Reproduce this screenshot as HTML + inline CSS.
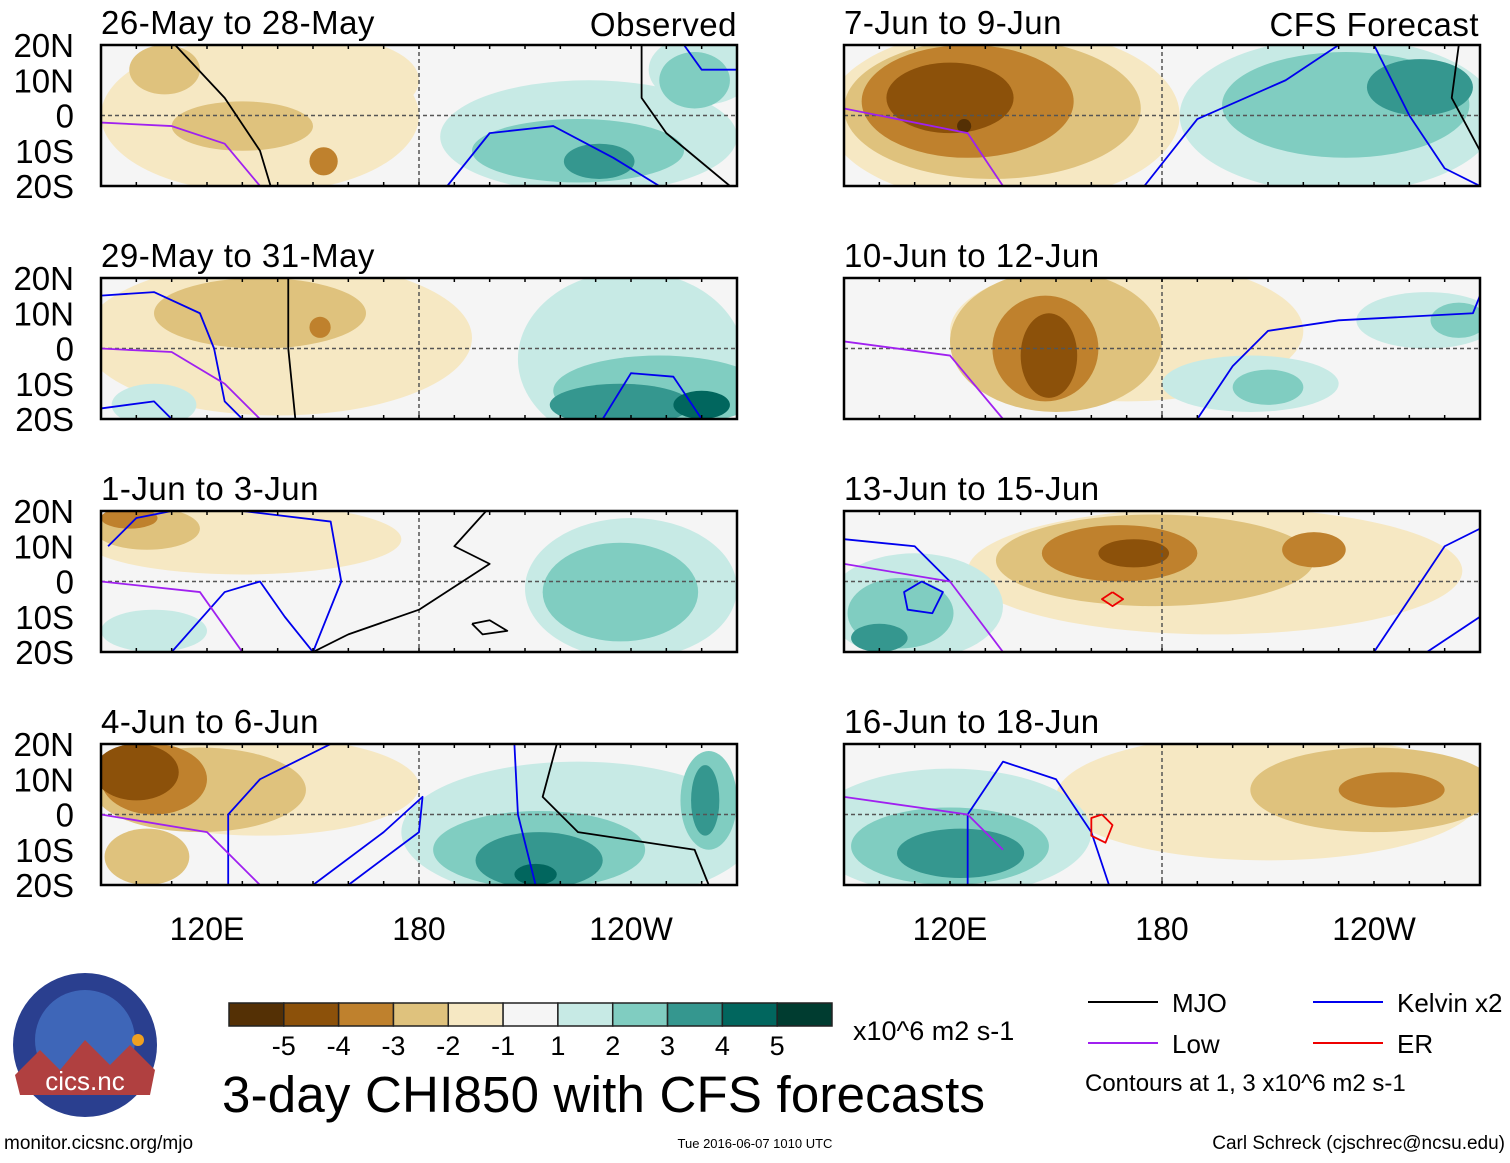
<!DOCTYPE html>
<html><head><meta charset="utf-8"><style>
body{margin:0;background:#fff;width:1510px;height:1158px;overflow:hidden;font-family:"Liberation Sans",sans-serif}
svg text{font-family:"Liberation Sans",sans-serif}
</style></head><body>
<svg id="s" width="1510" height="1158" xmlns="http://www.w3.org/2000/svg"></svg>
<script>
const levelColors={"-5":"#543005","-4":"#8c510a","-3":"#bf812d","-2":"#dfc27d","-1":"#f6e8c3","1":"#c7eae5","2":"#80cdc1","3":"#35978f","4":"#01665e","5":"#003c30"};
const panelTitles=["26-May to 28-May","29-May to 31-May","1-Jun to 3-Jun","4-Jun to 6-Jun","7-Jun to 9-Jun","10-Jun to 12-Jun","13-Jun to 15-Jun","16-Jun to 18-Jun"];
const latTicks=["20N","10N","0","10S","20S"];
const lonTickVals=[120,180,240];
const lonTickLabels=["120E","180","120W"];
const cbarLabels=["-5","-4","-3","-2","-1","1","2","3","4","5"];
// blobs: [lon, lat, rlon, rlat, level]
const blobs=[
[[135,0,45,22,-1],[155,10,25,12,-1],[130,-3,20,7,-2],[108,13,10,7,-2],[153,-13,4,4,-3],[228,-6,42,16,1],[260,13,15,10,1],[225,-10,30,9,2],[258,10,10,8,2],[231,-13,10,5,3]],
[[140,3,55,22,-1],[135,10,30,10,-2],[152,6,3,3,-3],[240,-3,32,25,1],[105,-16,12,6,1],[248,-12,30,10,2],[237,-16,20,6,3],[260,-16,8,4,4]],
[[130,12,45,10,-1],[103,15,15,6,-2],[98,18,8,3,-3],[240,-2,30,20,1],[105,-14,15,6,1],[237,-3,22,14,2]],
[[135,8,45,14,-1],[118,7,30,12,-2],[103,-12,12,8,-2],[105,10,15,10,-3],[100,12,12,8,-4],[225,-5,50,20,1],[214,-10,30,11,2],[262,4,8,14,2],[214,-13,18,8,3],[261,4,4,10,3],[213,-17,6,3,4]],
[[135,0,50,25,-1],[132,2,42,20,-2],[125,4,30,16,-3],[120,5,18,10,-4],[124,-3,2,2,-5],[230,0,45,22,1],[232,3,35,15,2],[253,8,15,8,3]],
[[170,5,50,20,-1],[150,2,30,20,-2],[147,0,15,15,-3],[148,-2,8,12,-4],[205,-10,25,8,1],[255,8,20,8,1],[210,-11,10,5,2],[264,8,8,5,2]],
[[195,3,70,18,-1],[178,6,45,13,-2],[168,8,22,8,-3],[223,9,9,5,-3],[172,8,10,4,-4],[110,-7,25,15,1],[106,-9,15,10,2],[100,-16,8,4,3]],
[[210,5,60,18,-1],[240,7,35,12,-2],[245,7,15,5,-3],[120,-5,40,18,1],[120,-9,28,11,2],[123,-11,18,7,3]]
];
const lines=[
[["mjo",[[111,20],[125,5],[135,-10],[138,-20]]],["mjo",[[243,20],[243,5],[250,-5],[268,-20]]],["kel",[[188,-20],[200,-5],[218,-3],[235,-12],[248,-20]]],["kel",[[255,20],[260,13],[270,13]]],["low",[[90,-2],[110,-3],[125,-8],[135,-20]]]],
[["mjo",[[143,20],[143,0],[145,-20]]],["kel",[[90,-17],[105,-15],[110,-20]]],["kel",[[90,15],[105,16],[118,10],[122,0],[125,-15],[130,-20]]],["kel",[[232,-20],[240,-7],[252,-8],[260,-20]]],["low",[[90,0],[110,-1],[125,-10],[135,-20]]]],
[["kel",[[92,10],[100,18],[110,20]]],["kel",[[130,20],[155,17],[158,0],[150,-20]]],["kel",[[110,-20],[125,-3],[135,0],[142,-10],[150,-20]]],["mjo",[[199,20],[190,10],[200,5],[180,-8],[160,-15],[150,-20]]],["mjo",[[195,-12],[200,-11],[205,-14],[198,-15],[195,-12]]],["low",[[90,0],[118,-3],[130,-20]]]],
[["kel",[[126,-20],[126,0],[135,10],[155,20]]],["kel",[[150,-20],[170,-5],[181,5],[180,-5],[160,-20]]],["kel",[[207,20],[208,0],[213,-20]]],["mjo",[[219,20],[215,5],[225,-5],[258,-10],[262,-20]]],["low",[[90,0],[120,-5],[135,-20]]]],
[["kel",[[175,-20],[190,-1],[215,10],[230,20]]],["kel",[[240,20],[250,0],[260,-15],[270,-20]]],["mjo",[[264,20],[262,5],[270,-10]]],["low",[[90,2],[125,-5],[135,-20]]]],
[["kel",[[190,-20],[200,-5],[210,5],[230,8],[268,10],[270,15]]],["low",[[90,2],[120,-2],[135,-20]]]],
[["kel",[[90,12],[110,10],[120,0]]],["kel",[[112,0],[118,-3],[115,-9],[108,-8],[107,-3],[112,0]]],["kel",[[240,-20],[260,10],[270,15]]],["kel",[[255,-20],[270,-10]]],["er",[[166,-3],[169,-5],[166,-7],[163,-5],[166,-3]]],["low",[[90,5],[120,0],[135,-20]]]],
[["kel",[[125,-20],[125,0],[135,15],[150,10],[160,-5],[165,-20]]],["er",[[163,0],[166,-3],[164,-8],[160,-6],[160,-1],[163,0]]],["low",[[90,5],[125,0],[135,-10]]]]
];
const lineColors={mjo:"#000",kel:"#0000ee",low:"#a020f0",er:"#ee0000"};
const NS="http://www.w3.org/2000/svg";
const svg=document.getElementById('s');
function mk(tag,attrs,parent){const e=document.createElementNS(NS,tag);for(const k in attrs)e.setAttribute(k,attrs[k]);(parent||svg).appendChild(e);return e;}
const PW=636,PH=141;
const lefts=[101,844],tops=[45,278,511,744];
const xs=(x0,lon)=>x0+(lon-90)/180*PW;
const ys=(y0,lat)=>y0+(20-lat)/40*PH;
const defs=mk('defs',{});
for(let p=0;p<8;p++){
  const x0=lefts[p<4?0:1],y0=tops[p%4];
  const cp=mk('clipPath',{id:'c'+p},defs);mk('rect',{x:x0,y:y0,width:PW,height:PH},cp);
  const g=mk('g',{'clip-path':'url(#c'+p+')'});
  
  
  mk('rect',{x:x0,y:y0,width:PW,height:PH,fill:'#f5f5f5'},g);
  const bs=blobs[p].slice().sort((a,b)=>Math.abs(a[4])-Math.abs(b[4]));
  for(const b of bs){
    const e=mk('ellipse',{cx:xs(x0,b[0]),cy:ys(y0,b[1]),rx:b[2]/180*PW,ry:b[3]/40*PH,fill:levelColors[b[4]]},g);
    
    
  }
  mk('line',{x1:x0,x2:x0+PW,y1:ys(y0,0),y2:ys(y0,0),stroke:'#555','stroke-dasharray':'4 3','stroke-width':1.5},g);
  mk('line',{x1:xs(x0,180),x2:xs(x0,180),y1:y0,y2:y0+PH,stroke:'#555','stroke-dasharray':'4 3','stroke-width':1.5},g);
  for(const ln of lines[p]){
    const pl=mk('polyline',{points:ln[1].map(q=>xs(x0,q[0])+','+ys(y0,q[1])).join(' '),fill:'none',stroke:lineColors[ln[0]],'stroke-width':1.8,'stroke-linejoin':'round'},g);
    
    
  }
  mk('rect',{x:x0,y:y0,width:PW,height:PH,fill:'none',stroke:'#000','stroke-width':2.5});
  for(let lon=90;lon<=270;lon+=10){const x=xs(x0,lon);mk('line',{x1:x,x2:x,y1:y0,y2:y0+4,stroke:'#000','stroke-width':1.5});mk('line',{x1:x,x2:x,y1:y0+PH,y2:y0+PH-4,stroke:'#000','stroke-width':1.5});}
  const t=mk('text',{x:x0,y:y0-11,'font-size':33,fill:'#000','letter-spacing':'0.5'});t.textContent=panelTitles[p];
  
  
  if(p<4){latTicks.forEach((l,i)=>{const tt=mk('text',{x:74,y:y0+i*PH/4+12,'font-size':33,'text-anchor':'end'});tt.textContent=l;
    
    });}
}
[[737,"Observed"],[1479,"CFS Forecast"]].forEach(a=>{const t=mk('text',{x:a[0],y:36,'font-size':33,'text-anchor':'end','letter-spacing':'0.5'});t.textContent=a[1];
  
  });
lefts.forEach(x0=>lonTickVals.forEach((v,i)=>{const t=mk('text',{x:xs(x0,v),y:940,'font-size':32,'text-anchor':'middle'});t.textContent=lonTickLabels[i];
  
  }));
const cbLevels=["-5","-4","-3","-2","-1","0","1","2","3","4","5"];
const cbw=603/11;
cbLevels.forEach((l,i)=>{const r=mk('rect',{x:229+i*cbw,y:1003,width:cbw,height:23,fill:l==="0"?"#f5f5f5":levelColors[l],stroke:'#222','stroke-width':1.5});
  
  });
cbarLabels.forEach((l,i)=>{const t=mk('text',{x:229+(i+1)*cbw,y:1055,'font-size':27,'text-anchor':'middle'});t.textContent=l;
  
  });
function txt(x,y,s,str,anchor,name){const t=mk('text',{x:x,y:y,'font-size':s,'text-anchor':anchor||'start'});t.textContent=str;return t;}
txt(853,1040,27,"x10^6 m2 s-1",'start','colorbar-units');
const ft=txt(222,1112,51,"3-day CHI850 with CFS forecasts",'start','figure-title');
ft.setAttribute('textLength','763');
txt(4,1149,19,"monitor.cicsnc.org/mjo",'start','source-url');
txt(755,1148,13,"Tue 2016-06-07 1010 UTC",'middle','timestamp');
txt(1505,1149,19,"Carl Schreck (cjschrec@ncsu.edu)",'end','author-credit');
[[1088,1002,"mjo","MJO"],[1088,1043,"low","Low"],[1313,1002,"kel","Kelvin x2"],[1313,1043,"er","ER"]].forEach(a=>{
  const l=mk('line',{x1:a[0],x2:a[0]+70,y1:a[1],y2:a[1],stroke:lineColors[a[2]],'stroke-width':2});
  
  
  txt(a[0]+84,a[1]+10,26,a[3],'start','legend-label');
});
txt(1085,1091,24,"Contours at 1, 3 x10^6 m2 s-1",'start','contour-note');
const lg=mk('g',{});


mk('circle',{cx:85,cy:1045,r:72,fill:'#2a3f8f'},lg);
mk('circle',{cx:85,cy:1040,r:50,fill:'#3e66b8'},lg);
mk('path',{d:'M15,1075 L40,1050 L60,1070 L85,1040 L110,1065 L130,1045 L155,1070 L150,1095 L20,1095 Z',fill:'#b04040'},lg);
mk('circle',{cx:138,cy:1040,r:6,fill:'#f0a020'},lg);
const lt=mk('text',{x:85,y:1090,'font-size':26,'text-anchor':'middle',fill:'#fff'},lg);lt.textContent="cics.nc";
</script>
</body></html>
